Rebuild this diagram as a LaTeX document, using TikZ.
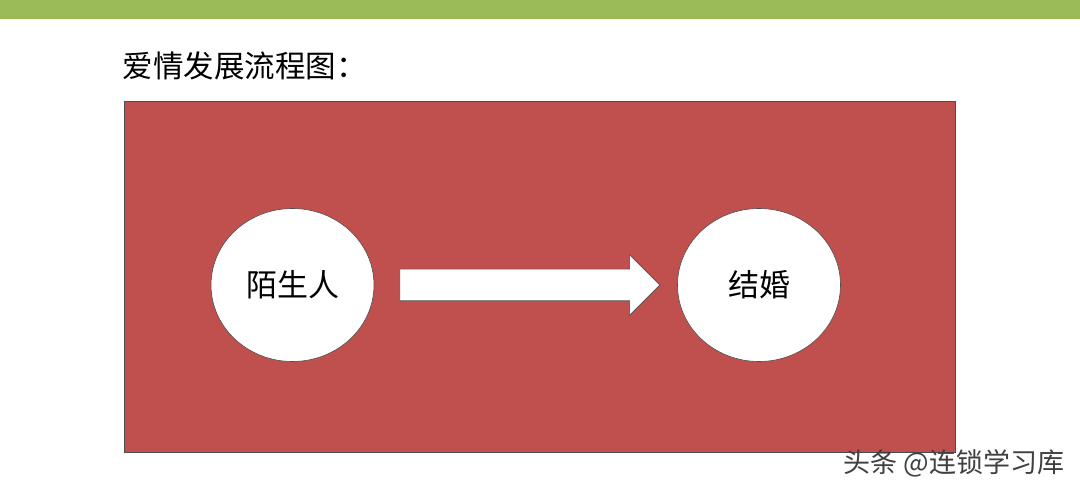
\documentclass[tikz,border=0pt]{standalone}
\usepackage{fontspec}
\setmainfont{Noto Sans CJK SC}
\usetikzlibrary{shapes.arrows,shapes.geometric}
\definecolor{barGreen}{HTML}{9BBB59}
\definecolor{boxRed}{HTML}{C0504D}
\begin{document}
\begin{tikzpicture}[x=1pt,y=-1pt,
    stage/.style={ellipse,draw=black!70,line width=0.6pt,fill=white,minimum width=163pt,minimum height=153pt,inner sep=0pt,font=\fontsize{31}{34}\selectfont},
    blockarrow/.style={single arrow,draw=black!70,line width=0.6pt,fill=white,minimum height=260pt,minimum width=60pt,inner xsep=0pt,inner ysep=15.5pt,single arrow head extend=14.5pt}]
  \useasboundingbox (0,0) rectangle (1080,494);
  \fill[white] (0,0) rectangle (1080,494);
  \fill[barGreen] (0,0) rectangle (1080,19);
  \draw[draw=black!70,line width=0.6pt,fill=boxRed] (124,101) rectangle (955,452);
  \draw
    (119,66) node[anchor=west,font=\fontsize{30.5}{34}\selectfont] (title){爱情发展流程图：}
    (292.5,285) node[stage] (stranger){陌生人}
    (522,285) node[blockarrow] (arrow){}
    (759,285) node[stage] (marriage){结婚};
  \node[anchor=east,font=\fontsize{27}{30}\selectfont,text=black!75] at (1068,463) (mark){头条 @连锁学习库};
\end{tikzpicture}
\end{document}
